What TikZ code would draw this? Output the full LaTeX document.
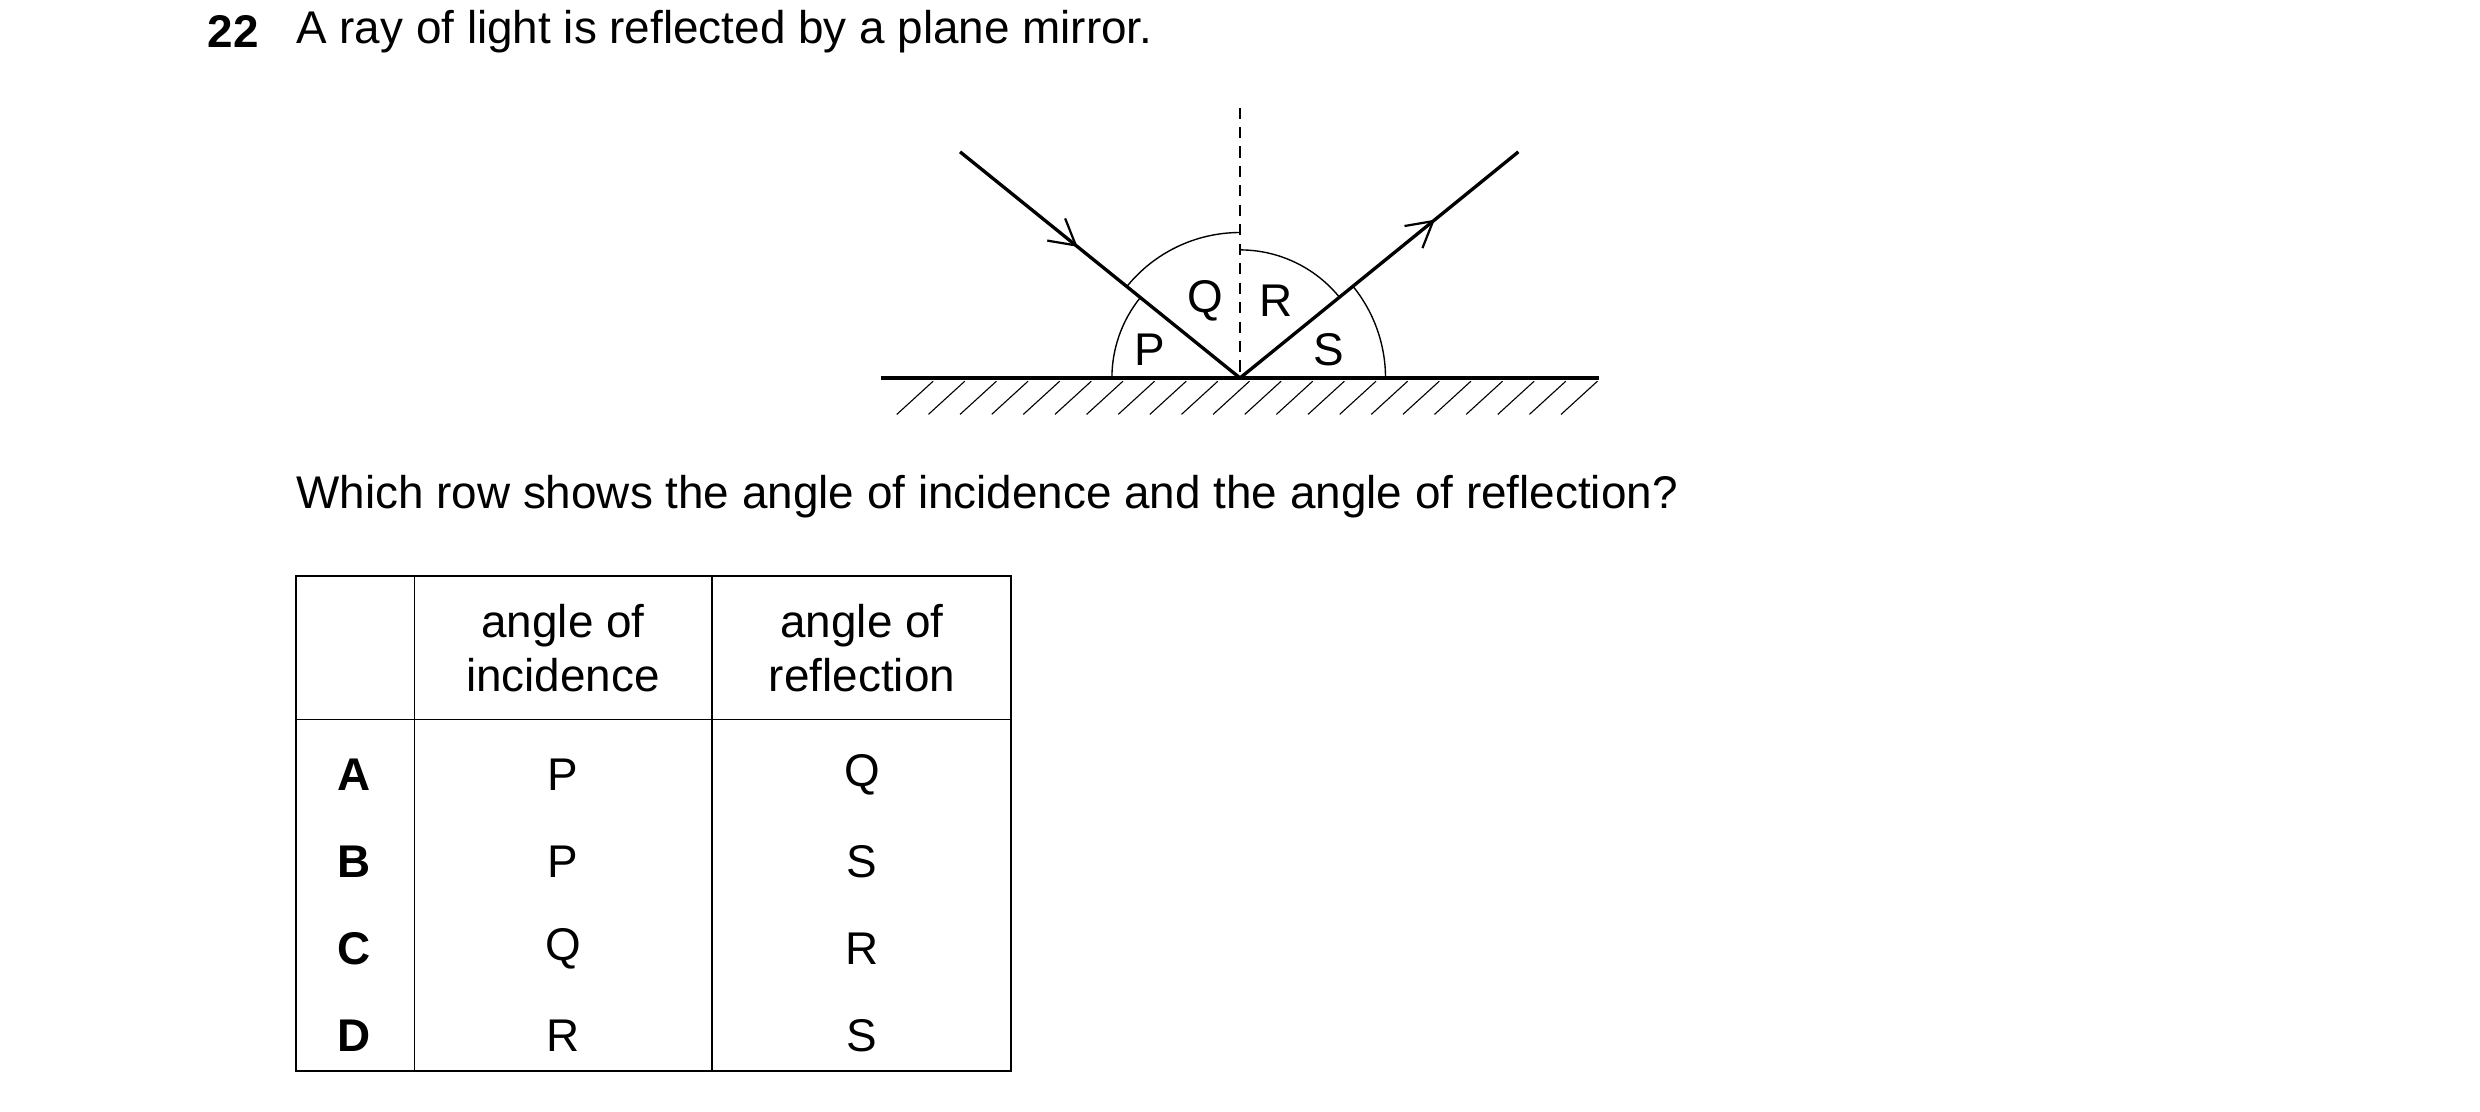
\documentclass[tikz,border=0pt]{standalone}
\usepackage{fontspec}
\setmainfont{Liberation Sans}
\usetikzlibrary{arrows.meta,decorations.markings}

\begin{document}
\begin{tikzpicture}[x=0.02cm,y=-0.02cm,
    every node/.style={font=\fontsize{16.5}{19.5}\selectfont, inner sep=0pt},
    ray/.style={line width=1.2pt, postaction={decorate}, decoration={markings,
        mark=at position #1 with {\arrow{Straight Barb[length=3.2mm,width=3.6mm,line width=0.8pt]}}}},
    angarc/.style={line width=0.5pt},
    hatch/.style={line width=0.4pt},
]
\useasboundingbox (0,0) rectangle (1568,703);

% question text
\node[font=\fontsize{16.5}{19.5}\selectfont\bfseries, anchor=west] (num) at (131,20) {22};
\node[anchor=west] (qtext) at (187,20) {A ray of light is reflected by a plane mirror.};

% mirror, normal and rays
\coordinate (O) at (784,239);
\coordinate (mirL) at (557,239);
\coordinate (mirR) at (1011,239);
\coordinate (nTop) at (784,68);
\coordinate (inS) at (607,96);
\coordinate (outE) at (960,96);
\draw[line width=1.4pt] (mirL) -- (mirR);
\foreach \x in {567,587,...,987}
    \draw[hatch] (\x,262) -- ++(23,-21);
\draw[dashed, line width=0.5pt, dash pattern=on 4pt off 3pt] (nTop) -- (O);
\draw[ray=0.42] (inS) -- (O);
\draw[ray=0.7] (O) -- (outE);

% angle arcs (y axis points down, so angles are negated)
\draw[angarc] (O) ++(-180:81) arc[start angle=-180, end angle=-141.1, radius=81];
\draw[angarc] (O) ++(-141.1:92) arc[start angle=-141.1, end angle=-90, radius=92];
\draw[angarc] (O) ++(-90:81) arc[start angle=-90, end angle=-38.9, radius=81];
\draw[angarc] (O) ++(-38.9:92) arc[start angle=-38.9, end angle=0, radius=92];
\node (P) at (727,221) {P};
\node (Q) at (762,190) {Q};
\node (R) at (807,190) {R};
\node (S) at (840,221) {S};

\node[anchor=west] (ask) at (187,314) {Which row shows the angle of incidence and the angle of reflection?};

% table
\draw[line width=0.6pt] (187,364) rectangle (639,677);
\draw[line width=0.6pt] (262,364) -- (262,677) (450,364) -- (450,677) (187,455) -- (639,455);
\node[align=center] (h1) at (356,410) {angle of\\incidence};
\node[align=center] (h2) at (545,410) {angle of\\reflection};
\foreach \r/\i/\o [count=\k from 0] in {A/P/Q, B/P/S, C/Q/R, D/R/S} {
    \node[font=\fontsize{16.5}{19.5}\selectfont\bfseries] (row\r) at (224,490+55*\k) {\r};
    \node (inc\r) at (356,490+55*\k) {\i};
    \node (ref\r) at (545,490+55*\k) {\o};
}
\end{tikzpicture}
\end{document}
